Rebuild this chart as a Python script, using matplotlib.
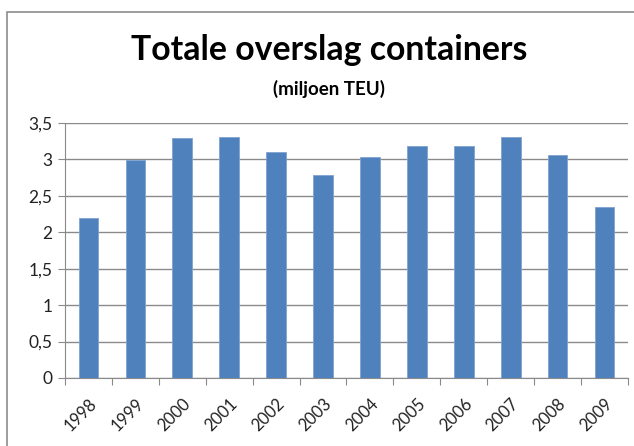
import matplotlib
matplotlib.use("Agg")
import matplotlib.pyplot as plt
from matplotlib.patches import Rectangle

jaren = ["1998", "1999", "2000", "2001", "2002", "2003",
         "2004", "2005", "2006", "2007", "2008", "2009"]
teu = [2.20, 2.99, 3.29, 3.31, 3.10, 2.78,
       3.04, 3.19, 3.19, 3.31, 3.06, 2.35]
y_ticks = [0, 0.5, 1, 1.5, 2, 2.5, 3, 3.5]
y_labels = ["0", "0,5", "1", "1,5", "2", "2,5", "3", "3,5"]

plt.rcParams['font.family'] = ['Lato', 'DejaVu Sans']

fig = plt.figure(figsize=(6.34, 4.46), dpi=100)
ax = fig.add_axes([0.1025, 0.1525, 0.888, 0.5717])

# kader rond de grafiek (loopt rechts en onder buiten beeld)
fig.patches.append(Rectangle((7/634, -0.1), 1.2, 1 - 12/446 + 0.1,
                             transform=fig.transFigure, fill=False,
                             edgecolor='#8c8c8c', lw=1.2))

x = list(range(len(jaren)))
ax.bar(x, teu, width=0.42, color='#4F81BD', edgecolor='#7fa3d1', linewidth=0.6, zorder=3)

ax.set_xlim(-0.5, len(jaren) - 0.5)
ax.set_ylim(0, 3.5)
ax.set_yticks(y_ticks)
ax.set_yticklabels(y_labels, fontsize=12.5, color='#222222')
ax.yaxis.grid(True, color='#8a8a8a', lw=1.0, zorder=0)

ax.set_xticks([i - 0.5 for i in range(len(jaren) + 1)])
ax.set_xticklabels([])
ax.set_xticks(x, minor=True)
ax.set_xticklabels(jaren, minor=True, rotation=45, ha='right',
                   rotation_mode='anchor', fontsize=12, color='#222222')
ax.tick_params(axis='x', which='minor', length=0, pad=13)
ax.tick_params(axis='x', which='major', length=5, color='#8a8a8a')
ax.tick_params(axis='y', length=5, color='#8a8a8a', pad=4)

for s in ['top', 'right']:
    ax.spines[s].set_visible(False)
for s in ['left', 'bottom']:
    ax.spines[s].set_color('#8a8a8a')

fig.text(329/634, 1 - 50/446, "Totale overslag containers", ha='center', va='center',
         fontsize=24.3, fontweight='bold')
fig.text(329/634, 1 - 89/446, "(miljoen TEU)", ha='center', va='center',
         fontsize=13.5, fontweight='bold')

fig.savefig("out.png", dpi=100)
